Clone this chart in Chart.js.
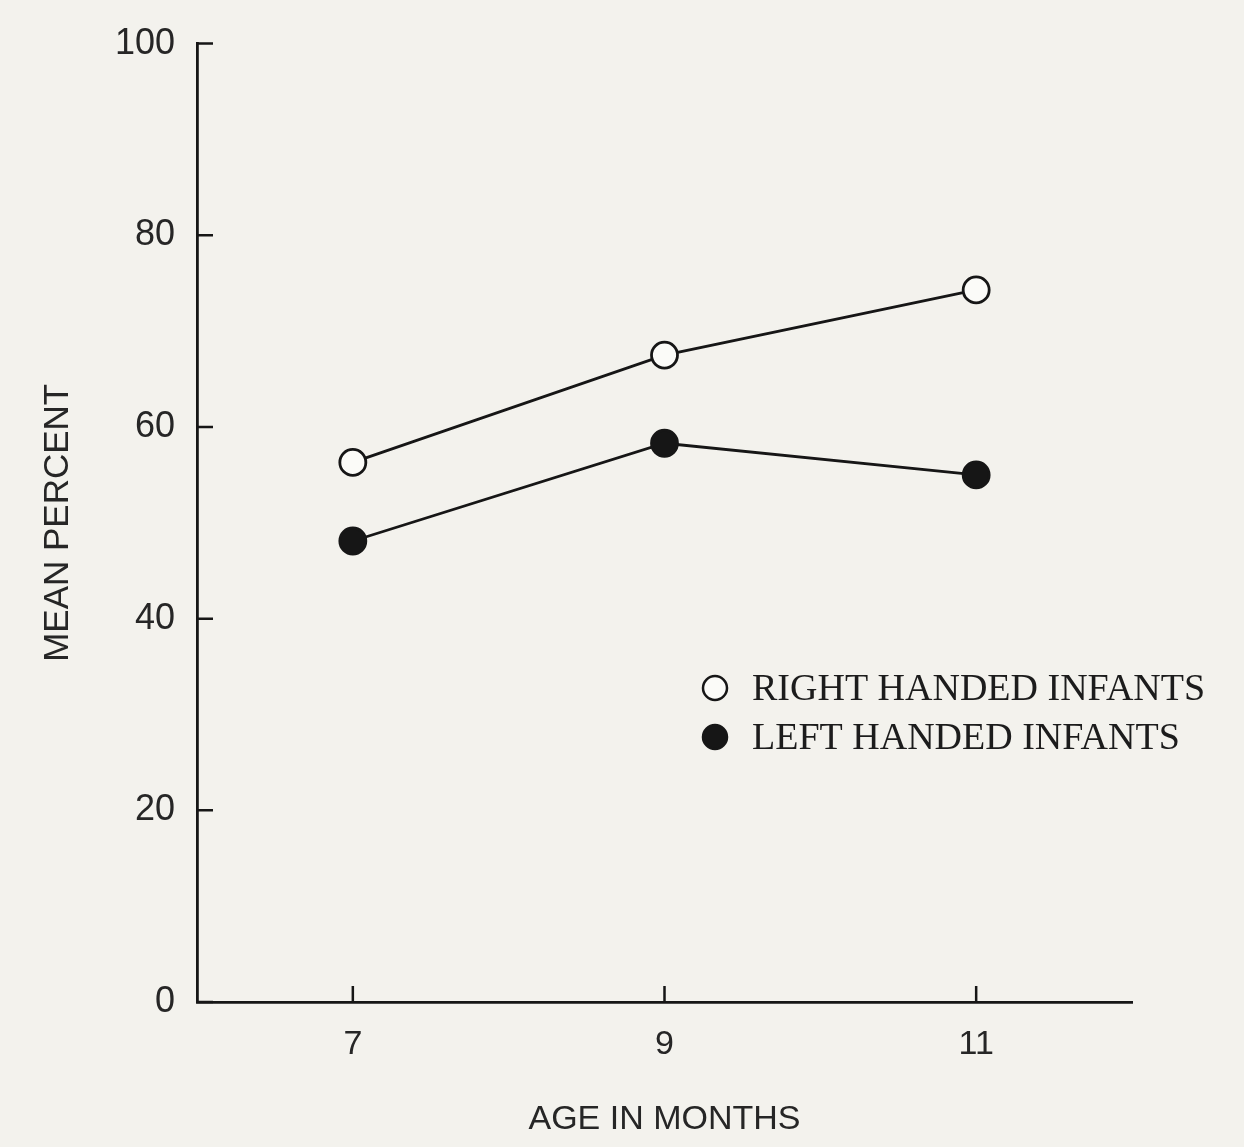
<!DOCTYPE html>
<html>
<head>
<meta charset="utf-8">
<script src="https://cdn.jsdelivr.net/npm/chart.js@4/dist/chart.umd.min.js"></script>
<style>
  html, body { margin: 0; padding: 0; background: #f3f2ed; }
  #wrap { width: 1244px; height: 1147px; }
</style>
</head>
<body>
<div id="wrap"><canvas id="chart"></canvas></div>
<script>
// Age (months) and mean percent for each group
const ages = [7, 9, 11];
const rightHanded = [56.3, 67.5, 74.3];
const leftHanded = [48.1, 58.3, 55.0];
const yTicks = [0, 20, 40, 60, 80, 100];
const xTicks = [7, 9, 11];
const seriesNames = ['RIGHT HANDED INFANTS', 'LEFT HANDED INFANTS'];

const INK = '#161616';
const TEXT = '#262626';

function points(xs, ys) { return xs.map((x, i) => ({ x: x, y: ys[i] })); }

// Tick marks point into the plot area, so draw them after the scales
const inwardTicks = {
  id: 'inwardTicks',
  afterDatasetsDraw(chart) {
    const { ctx, chartArea, scales } = chart;
    ctx.save();
    ctx.strokeStyle = INK;
    ctx.lineWidth = 2.5;
    ctx.beginPath();
    yTicks.forEach(v => {
      const y = scales.y.getPixelForValue(v);
      ctx.moveTo(chartArea.left, y);
      ctx.lineTo(chartArea.left + 16, y);
    });
    xTicks.forEach(v => {
      const x = scales.x.getPixelForValue(v);
      ctx.moveTo(x, chartArea.bottom);
      ctx.lineTo(x, chartArea.bottom - 16);
    });
    ctx.stroke();
    ctx.restore();
  }
};

// Key placed inside the plot, to the right
const innerKey = {
  id: 'innerKey',
  afterDraw(chart) {
    const { ctx } = chart;
    const x0 = 715, y0 = 688, gap = 49;
    ctx.save();
    ctx.font = '38px "Liberation Serif", "Times New Roman", serif';
    ctx.textBaseline = 'middle';
    ctx.textAlign = 'left';
    chart.data.datasets.forEach((ds, i) => {
      const y = y0 + i * gap;
      ctx.beginPath();
      ctx.arc(x0, y, 12, 0, Math.PI * 2);
      ctx.fillStyle = ds.pointBackgroundColor;
      ctx.fill();
      ctx.lineWidth = 2.5;
      ctx.strokeStyle = INK;
      ctx.stroke();
      ctx.fillStyle = '#1c1c1c';
      ctx.fillText(ds.label, 752, y + 2);
    });
    ctx.restore();
  }
};

new Chart(document.getElementById('chart'), {
  type: 'line',
  data: {
    datasets: [
      {
        label: seriesNames[0],
        data: points(ages, rightHanded),
        borderColor: INK,
        borderWidth: 2.8,
        pointRadius: 13,
        pointBorderWidth: 2.8,
        pointBorderColor: INK,
        pointBackgroundColor: '#fbfbf8',
        tension: 0
      },
      {
        label: seriesNames[1],
        data: points(ages, leftHanded),
        borderColor: INK,
        borderWidth: 2.8,
        pointRadius: 13,
        pointBorderWidth: 2.8,
        pointBorderColor: INK,
        pointBackgroundColor: INK,
        tension: 0
      }
    ]
  },
  options: {
    responsive: true,
    maintainAspectRatio: false,
    animation: false,
    layout: { padding: { left: 0, top: 41, right: 112, bottom: 0 } },
    plugins: { legend: { display: false }, tooltip: { enabled: false } },
    scales: {
      x: {
        type: 'linear',
        min: 6,
        max: 12,
        afterBuildTicks(scale) { scale.ticks = xTicks.map(v => ({ value: v })); },
        afterFit(scale) { scale.height = 145; },
        grid: { display: false, drawTicks: false },
        border: { display: true, color: INK, width: 2.8 },
        ticks: {
          padding: 22,
          color: TEXT,
          font: { family: '"Liberation Sans", Arial, sans-serif', size: 34 },
          maxRotation: 0
        },
        title: {
          display: true,
          text: 'AGE IN MONTHS',
          color: TEXT,
          font: { family: '"Liberation Sans", Arial, sans-serif', size: 34 },
          padding: { top: 0, bottom: 7 }
        }
      },
      y: {
        type: 'linear',
        min: 0,
        max: 100,
        afterBuildTicks(scale) { scale.ticks = yTicks.map(v => ({ value: v })); },
        afterFit(scale) { scale.width = 197; },
        grid: { display: false, drawTicks: false },
        border: { display: true, color: INK, width: 2.8 },
        ticks: {
          padding: 22,
          color: TEXT,
          font: { family: '"Liberation Sans", Arial, sans-serif', size: 36 }
        },
        title: {
          display: true,
          text: 'MEAN PERCENT',
          color: TEXT,
          font: { family: '"Liberation Sans", Arial, sans-serif', size: 35 },
          padding: { top: 37, bottom: 0 }
        }
      }
    }
  },
  plugins: [inwardTicks, innerKey]
});
</script>
</body>
</html>
